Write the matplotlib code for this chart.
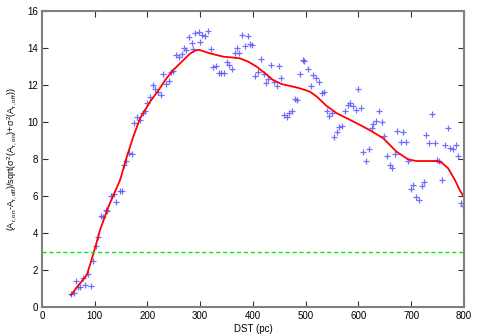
import numpy as np
import matplotlib
matplotlib.use('Agg')
import matplotlib.pyplot as plt

plt.rcParams['font.family'] = ['Liberation Sans', 'DejaVu Sans']
plt.rcParams['mathtext.fontset'] = 'custom'
plt.rcParams['mathtext.rm'] = 'Liberation Sans'
plt.rcParams['mathtext.it'] = 'Liberation Sans'

# measured points (DST in pc, significance)
dst = [55, 60, 64, 68, 72, 77, 82, 87, 92, 97, 102, 106, 112, 116, 122, 124,
       131, 136, 140, 147, 151, 155, 159, 165, 170, 175, 180, 186, 191, 195,
       200, 205, 210, 214, 219, 225, 230, 235, 240, 245, 249, 255, 260, 265,
       269, 273, 279, 284, 287, 290, 298, 300, 304, 309, 315, 320, 325, 329,
       335, 340, 345, 350, 355, 360, 365, 369, 374, 380, 385, 390, 394, 399,
       404, 409, 415, 420, 425, 429, 434, 440, 445, 450, 454, 459, 464, 469,
       474, 480, 484, 489, 494, 497, 505, 510, 514, 519, 525, 530, 535, 540,
       545, 549, 554, 559, 564, 569, 574, 580, 584, 589, 595, 600, 604, 609,
       614, 620, 625, 628, 633, 639, 644, 649, 654, 660, 664, 669, 674, 680,
       685, 690, 694, 699, 704, 710, 715, 720, 725, 729, 734, 740, 745, 749,
       753, 759, 764, 769, 774, 780, 785, 789, 794, 799]
sig = [0.70, 0.74, 1.42, 1.10, 1.07, 1.57, 1.19, 1.78, 1.14, 2.50, 3.30, 3.77,
       4.92, 4.86, 5.24, 5.20, 6.00, 6.10, 5.68, 6.29, 6.29, 7.68, 7.90, 8.30,
       8.27, 9.96, 10.25, 10.10, 10.47, 10.60, 11.04, 11.34, 12.00, 11.80,
       11.64, 11.46, 12.58, 12.04, 12.23, 12.72, 12.77, 13.62, 13.50, 13.66,
       14.00, 13.90, 14.58, 14.25, 13.93, 14.80, 14.85, 14.32, 14.70, 14.65,
       14.93, 13.96, 12.96, 13.02, 12.63, 12.63, 12.63, 13.23, 13.08, 12.86,
       13.71, 13.98, 13.75, 14.70, 14.10, 14.65, 14.20, 14.16, 12.50, 12.72,
       13.40, 12.60, 12.12, 12.30, 13.10, 12.18, 11.96, 13.04, 12.36, 10.40,
       10.29, 10.48, 10.60, 11.23, 11.20, 12.58, 13.35, 13.30, 12.86, 11.95,
       12.54, 12.36, 12.18, 11.58, 11.64, 10.60, 10.32, 10.47, 9.17, 9.48,
       9.71, 9.78, 10.60, 10.92, 11.04, 10.86, 10.65, 11.77, 10.74, 8.36, 7.90,
       8.54, 9.70, 9.90, 10.07, 10.58, 10.02, 9.26, 8.14, 7.66, 7.50, 8.27,
       9.53, 8.90, 9.48, 8.94, 7.90, 6.37, 6.62, 5.96, 5.78, 6.54, 6.76, 9.30,
       8.85, 10.43, 8.88, 7.92, 7.91, 6.86, 8.76, 9.70, 8.60, 8.53, 8.78,
       8.18, 5.64, 5.48]

# smoothed fit curve
fit_dst = [55, 68, 85, 98, 110, 126, 148, 160, 173, 186, 205, 220, 236, 249,
           265, 280, 290, 298, 318, 344, 363, 375, 391, 407, 423, 438, 454,
           470, 489, 508, 521, 540, 559, 578, 603, 622, 647, 672, 694, 710,
           729, 748, 758, 770, 783, 792, 800]
fit_sig = [0.65, 1.13, 1.73, 2.93, 4.16, 5.42, 6.86, 8.04, 9.20, 10.20, 11.10,
           11.68, 12.36, 12.81, 13.26, 13.68, 13.86, 13.90, 13.71, 13.53,
           13.48, 13.44, 13.26, 12.99, 12.63, 12.27, 12.05, 11.95, 11.82,
           11.64, 11.37, 10.86, 10.47, 10.20, 9.84, 9.55, 9.12, 8.40, 7.98,
           7.89, 7.89, 7.89, 7.80, 7.50, 6.86, 6.32, 5.95]

threshold = 3

fig = plt.figure(figsize=(4.8, 3.36), dpi=100)
ax = fig.add_axes([0.0875, 0.0863, 0.879, 0.881])

ax.plot(dst, sig, '+', color='#5555ff', ms=5, mew=0.9, alpha=0.85)
ax.plot(fit_dst, fit_sig, '-', color='#ff0000', lw=1.3)
ax.axhline(threshold, color='#00ee00', lw=1.0, ls=(0, (3, 2)))

ax.set_xlim(0, 800)
ax.set_ylim(0, 16)
ax.set_xticks(np.arange(0, 801, 100))
ax.set_yticks(np.arange(0, 17, 2))
ax.tick_params(direction='in', top=True, right=True, labelsize=7,
               length=4, width=0.8, color='#333333', pad=3)
for s in ax.spines.values():
    s.set_color('#808080')
    s.set_linewidth(1.5)

ax.set_xlabel('DST (pc)', fontsize=7, labelpad=2)
ax.set_ylabel(r'$(\mathrm{A_{r,on}}$-$\mathrm{A_{r,off}})$/sqrt($\sigma^2(\mathrm{A_{r,on}})$+$\sigma^2(\mathrm{A_{r,off}})$)',
              fontsize=6.5, labelpad=6)

fig.savefig('out.png', dpi=100)
